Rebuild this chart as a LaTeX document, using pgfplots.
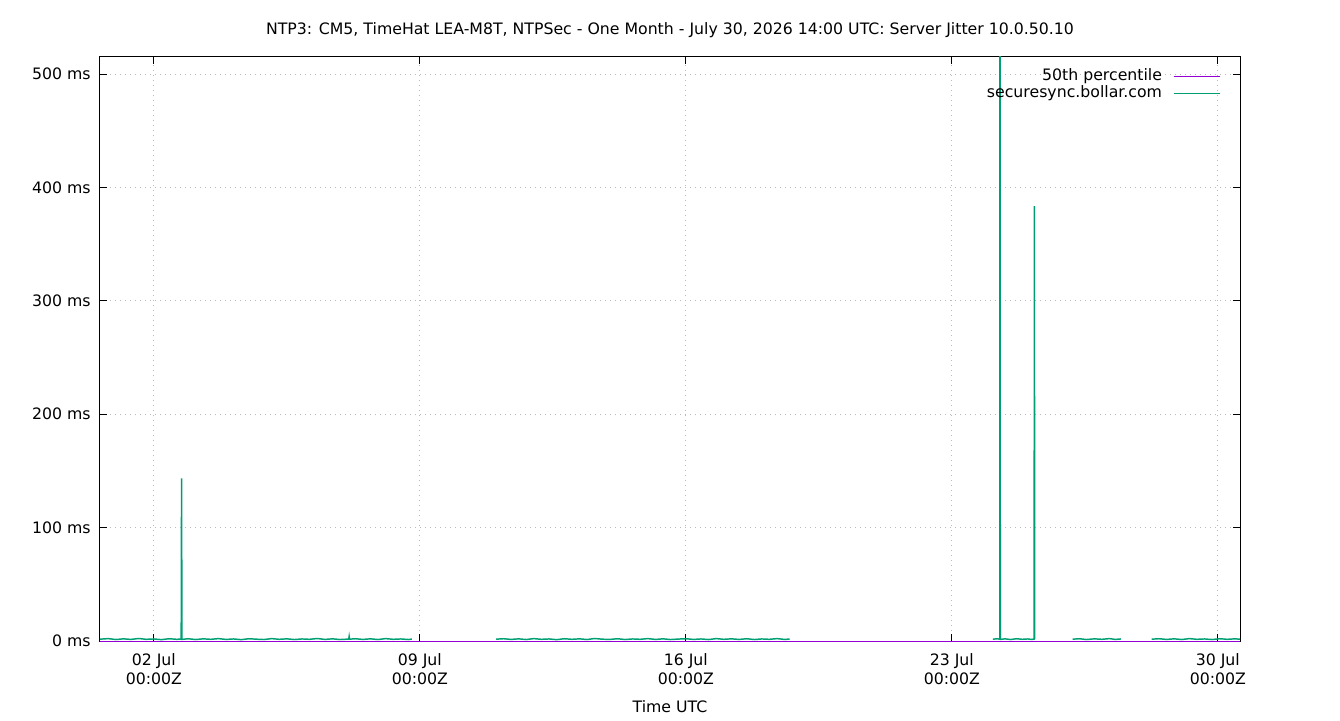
\documentclass[border=0pt]{standalone}
\usepackage{fontspec}
\setmainfont{DejaVu Sans}
\usepackage{pgfplots}
\usepackage{pgfplotstable}
\pgfplotsset{compat=1.18}
\usetikzlibrary{calc}
\definecolor{gpgreen}{HTML}{009E73}
\definecolor{gppurple}{HTML}{9400D3}
\pgfplotstableread{
x y
-1.417 1.6
-1.20 2.1
-1.00 1.3
-0.80 1.9
-0.60 1.4
-0.40 2.2
-0.20 1.5
0.00 1.8
0.20 1.2
0.40 2.0
0.60 1.5
0.72 1.7
0.73 143.5
0.74 1.4
0.90 2.0
1.10 1.3
1.30 1.9
1.50 1.5
1.70 2.1
1.90 1.4
2.10 1.8
2.30 1.2
2.50 2.0
2.70 1.6
2.90 1.3
3.10 2.1
3.30 1.5
3.50 1.9
3.70 1.3
3.90 1.8
4.10 1.5
4.30 2.2
4.50 1.4
4.70 1.9
4.90 1.3
5.13 1.7
5.14 4.0
5.15 1.6
5.30 2.0
5.50 1.4
5.70 1.9
5.90 1.3
6.10 2.1
6.30 1.5
6.50 1.8
6.70 1.3
6.79 1.7
nan nan
9.01 1.6
9.20 2.0
9.40 1.4
9.60 1.9
9.80 1.3
10.00 2.1
10.20 1.5
10.40 1.8
10.60 1.2
10.80 2.0
11.00 1.5
11.20 1.9
11.40 1.3
11.60 2.2
11.80 1.6
12.00 1.4
12.20 2.0
12.40 1.3
12.60 1.8
12.80 1.5
13.00 2.1
13.20 1.4
13.40 1.9
13.60 1.3
13.80 1.7
14.00 2.0
14.20 1.4
14.40 1.8
14.60 1.3
14.80 2.1
15.00 1.5
15.20 1.9
15.40 1.4
15.60 2.0
15.80 1.3
16.00 1.8
16.20 1.5
16.40 2.1
16.60 1.4
16.73 1.7
nan nan
22.08 1.6
22.20 2.0
22.262 1.5
22.268 900
22.275 1.4
22.40 1.9
22.55 1.3
22.70 2.0
22.85 1.5
23.00 1.8
23.10 1.4
23.165 1.7
23.172 383.5
23.18 1.6
nan nan
24.18 1.6
24.35 2.0
24.55 1.3
24.75 1.9
24.95 1.5
25.15 2.1
25.30 1.4
25.45 1.8
nan nan
26.26 1.6
26.45 2.0
26.65 1.4
26.85 1.9
27.05 1.3
27.25 2.1
27.45 1.5
27.65 1.8
27.85 1.3
28.05 2.0
28.25 1.5
28.45 1.9
28.583 1.6
}\jitter
\pgfplotstableread{
x y
-1.417 0
28.583 0
}\median
\begin{document}
\begin{tikzpicture}
\begin{axis}[
  scale only axis,
  width=855pt, height=438pt,
  xmin=-1.4167, xmax=28.5833,
  ymin=0, ymax=515,
  font=\fontsize{11.8}{13.3}\selectfont,
  /pgf/number format/assume math mode=true,
  xtick={0,7,14,21,28},
  xticklabels={02 Jul\\00:00Z,09 Jul\\00:00Z,16 Jul\\00:00Z,23 Jul\\00:00Z,30 Jul\\00:00Z},
  xticklabel style={align=center, yshift=-6.25pt, font=\fontsize{11.8}{13.6}\selectfont},
  ytick={0,100,200,300,400,500},
  yticklabels={0 ms,100 ms,200 ms,300 ms,400 ms,500 ms},
  yticklabel style={xshift=-3.5pt},
  tick align=inside,
  major tick length=5pt,
  minor tick num=0,
  tick style={black, line width=0.75pt},
  axis line style={black, line width=0.75pt},
  grid=major,
  grid style={color=gray!55, line width=0.6pt, dash pattern=on 0.75pt off 3pt},
  unbounded coords=jump,
  title={NTP3: CM5, TimeHat LEA-M8T, NTPSec - One Month - July 30, 2026 14:00 UTC: Server Jitter 10.0.50.10},
  title style={at={(0.5,1)}, anchor=center, yshift=14.25pt},
  xlabel={Time UTC},
  xlabel style={at={(axis description cs:0.5,0)}, anchor=center, yshift=-49.5pt},
  legend plot pos=right,
  legend cell align=right,
  legend style={draw=none, fill=none, at={(rel axis cs:1,1)}, anchor=north east,
    xshift=-11.25pt, yshift=-7.2pt, row sep=1.75pt, column sep=8.25pt,
    nodes={inner sep=0pt, text height=8.6pt, text depth=2.4pt}},
  legend image code/.code={\draw[#1, line width=0.8pt] (0pt,0pt) -- (35pt,0pt);},
]
\addplot[gppurple, line width=0.75pt] table[x=x,y=y] {\median};
\addlegendentry{50th percentile}
\addplot[gpgreen, line width=1.1pt] table[x=x,y=y] {\jitter};
\addlegendentry{securesync.bollar.com}
\end{axis}
\pgfresetboundingbox
\path ($(current axis.south west)+(-75pt,-59.25pt)$) rectangle ($(current axis.north east)+(75pt,42.75pt)$);
\end{tikzpicture}
\end{document}
